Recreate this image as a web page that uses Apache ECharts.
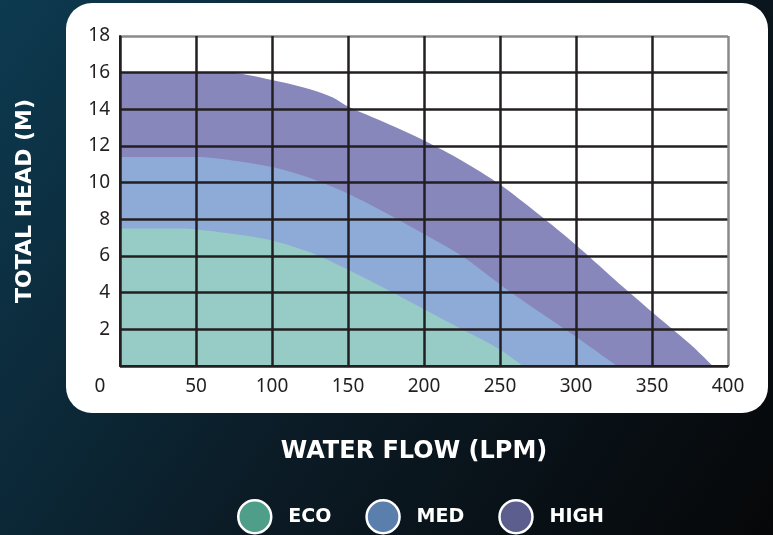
<!DOCTYPE html>
<html>
<head>
<meta charset="utf-8">
<script src="https://cdn.jsdelivr.net/npm/echarts@6/dist/echarts.min.js"></script>
<style>
  html, body { margin: 0; padding: 0; }
  #chart { width: 773px; height: 535px; }
</style>
</head>
<body>
<div id="chart"></div>
<script>
// pump curves: flow (LPM) -> head (m)
const ecoFlow  = [0, 40, 50, 75, 100, 125, 150, 175, 200, 225, 250, 265];
const ecoHead  = [7.5, 7.5, 7.45, 7.2, 6.85, 6.2, 5.25, 4.2, 3.1, 2.0, 0.9, 0];
const medFlow  = [0, 50, 75, 100, 125, 150, 175, 200, 225, 250, 275, 300, 327];
const medHead  = [11.4, 11.4, 11.2, 10.85, 10.25, 9.4, 8.35, 7.2, 6.0, 4.45, 3.0, 1.6, 0];
const highFlow = [0, 50, 72, 100, 125, 140, 150, 175, 200, 225, 250, 275, 300, 325, 350, 375, 390];
const highHead = [16, 16, 16, 15.6, 15.1, 14.65, 14.15, 13.25, 12.3, 11.2, 9.9, 8.3, 6.6, 4.75, 2.95, 1.2, 0];

const seriesNames = ['ECO', 'MED', 'HIGH'];
const areaColors  = ['#97cbc5', '#8eabd8', '#8887bb'];
const legendColors = ['#4f9e89', '#5a7fac', '#5c5e8e'];

const pairs = (xs, ys) => xs.map((x, i) => [x, ys[i]]);

const chart = echarts.init(document.getElementById('chart'));

const curve = (name, data, color) => ({
  name, type: 'line', data,
  smooth: 0.3,
  showSymbol: false, symbol: 'none',
  lineStyle: { width: 0 },
  itemStyle: { color },
  areaStyle: { color, opacity: 1 },
  silent: true
});

const black = '#231f20';
const ySplitColors = Array(9).fill(black).concat(['#8a8a8a']);
const xSplitColors = Array(8).fill(black).concat(['#8a8a8a']);

chart.setOption({
  backgroundColor: new echarts.graphic.LinearGradient(0, 0, 1, 1, [
    { offset: 0, color: '#0d3a50' },
    { offset: 0.55, color: '#0b1a24' },
    { offset: 1, color: '#060708' }
  ]),
  animation: false,
  graphic: [{
    type: 'rect', z: -10, silent: true,
    shape: { x: 66, y: 3, width: 702, height: 410, r: 26 },
    style: { fill: '#ffffff' }
  }],
  grid: { left: 120, right: 45, top: 36, bottom: 169 },
  legend: {
    left: 237, top: 499, padding: 0,
    icon: 'circle', itemWidth: 33, itemHeight: 33, itemGap: 34,
    selectedMode: false,
    textStyle: { color: '#ffffff', fontSize: 19, fontWeight: 'bold', fontFamily: 'DejaVu Sans', padding: [0, 0, 0, 12] },
    data: seriesNames.map((n, i) => ({
      name: n,
      itemStyle: { color: legendColors[i], borderColor: '#ffffff', borderWidth: 2.5 }
    }))
  },
  xAxis: {
    type: 'value', min: 0, max: 400, interval: 50, z: 10,
    name: 'WATER FLOW (LPM)', nameLocation: 'middle', nameGap: 74,
    nameTextStyle: { color: '#ffffff', fontSize: 24, fontWeight: 'bold', fontFamily: 'DejaVu Sans', padding: [0, 20, 0, 0] },
    axisLine: { show: true, lineStyle: { color: black, width: 2 } },
    axisTick: { show: false },
    axisLabel: {
      margin: 11, color: black, fontSize: 19, fontFamily: 'Noto Sans',
      formatter: v => v === 0 ? '{o|0}' : String(v),
      rich: { o: { padding: [0, 40, 0, 0], fontSize: 19, color: black, fontFamily: 'Noto Sans' } }
    },
    splitLine: { show: true, lineStyle: { color: xSplitColors, width: 2.5 } }
  },
  yAxis: {
    type: 'value', min: 0, max: 18, interval: 2, z: 10,
    name: 'TOTAL HEAD (M)', nameLocation: 'middle', nameGap: 84, nameRotate: 90,
    nameTextStyle: { color: '#ffffff', fontSize: 22, fontWeight: 'bold', fontFamily: 'DejaVu Sans' },
    axisLine: { show: true, lineStyle: { color: black, width: 2 } },
    axisTick: { show: false },
    axisLabel: {
      margin: 10, color: black, fontSize: 19, fontFamily: 'Noto Sans',
      formatter: v => v === 0 ? '' : String(v)
    },
    splitLine: { show: true, lineStyle: { color: ySplitColors, width: 2.5 } }
  },
  series: [
    curve('HIGH', pairs(highFlow, highHead), areaColors[2]),
    curve('MED', pairs(medFlow, medHead), areaColors[1]),
    curve('ECO', pairs(ecoFlow, ecoHead), areaColors[0])
  ]
});
</script>
</body>
</html>
